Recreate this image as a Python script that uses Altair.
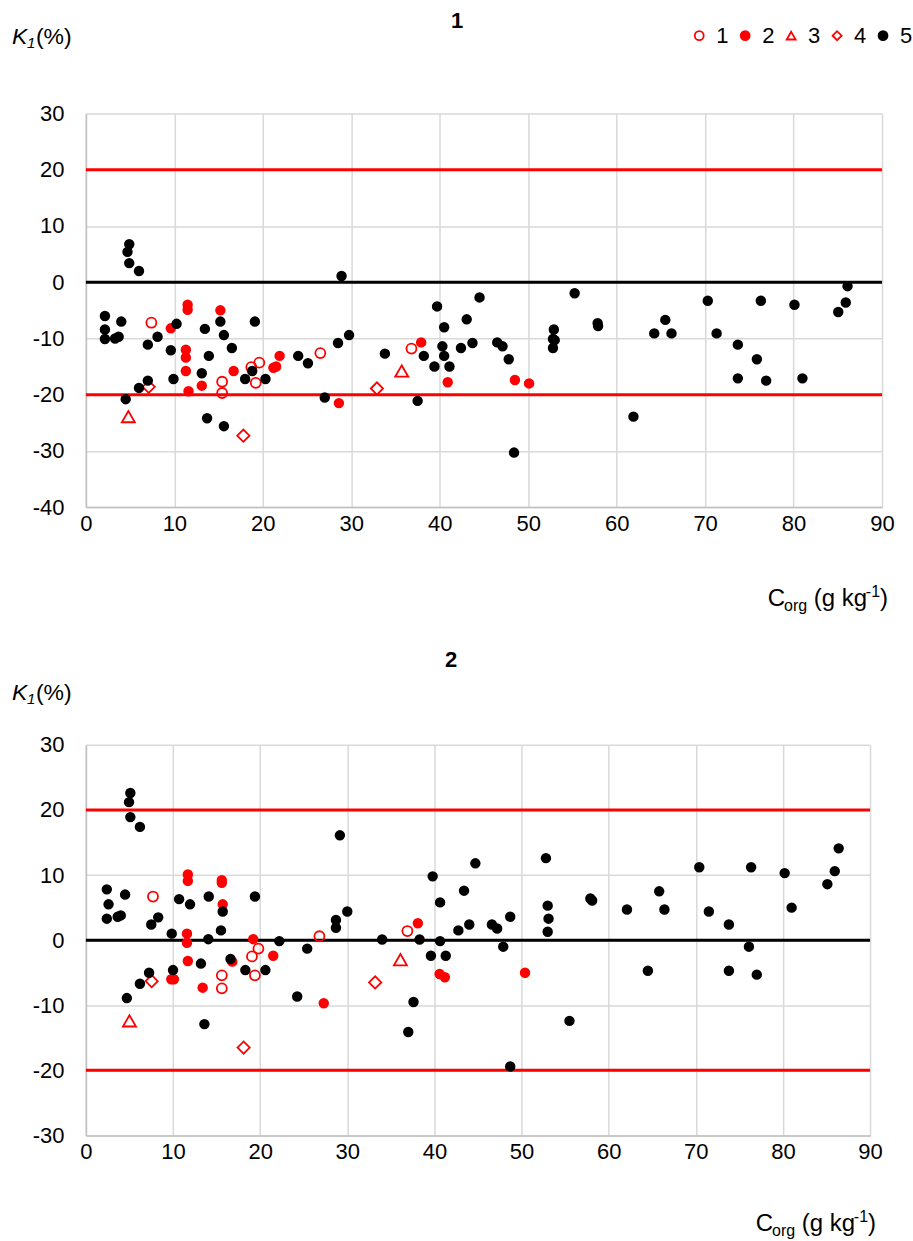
import altair as alt
import pandas as pd

FONT = "Liberation Sans"

# ---------------- data ----------------
SERIES = ["1", "2", "3", "4", "5"]

# Panel 1
p1_s1_x = [7.4, 15.4, 15.4, 18.7, 19.2, 19.6, 26.5, 36.8]
p1_s1_y = [-7.2, -17.7, -19.7, -15.1, -17.9, -14.3, -12.6, -11.8]

p1_s2_x = [11.5, 11.5, 15.2, 9.6, 11.3, 11.3, 11.3, 11.6, 13.1, 16.7, 21.2, 21.5, 21.9, 28.6, 37.9, 40.9, 48.5, 50.1]
p1_s2_y = [-4.0, -4.9, -5.0, -8.2, -12.0, -13.4, -15.8, -19.4, -18.4, -15.8, -15.2, -15.0, -13.1, -21.5, -10.7, -17.8, -17.4, -18.0]

p1_s3_x = [4.8, 35.7]
p1_s3_y = [-23.9, -15.8]

p1_s4_x = [7.1, 17.8, 32.9]
p1_s4_y = [-18.6, -27.3, -18.9]

p1_s5_x = [4.9, 4.7, 4.9, 6.0, 2.15, 2.15, 2.15, 3.3, 3.7, 4.0, 7.0, 8.1, 10.25, 9.6, 9.9, 7.0, 6.0, 4.5,
           13.45, 13.9, 13.1, 13.7, 15.2, 15.6, 16.5, 15.6, 19.1, 18.0, 18.8, 20.3, 24.0, 25.1, 28.9, 28.5,
           29.75, 27.0, 33.8, 37.5, 39.7, 40.5, 40.3, 38.2, 40.5, 39.4, 41.1, 42.4, 43.05, 43.7, 44.5, 46.5,
           47.1, 47.8, 48.4, 52.9, 52.8, 53.0, 52.8, 55.25, 57.85, 57.9, 61.9, 64.25, 65.5, 66.2, 70.3, 71.3,
           73.7, 73.7, 75.85, 76.3, 76.9, 80.1, 81.0, 85.05, 85.9, 86.1]
p1_s5_y = [6.75, 5.4, 3.4, 2.0, -6.0, -8.4, -10.1, -10.0, -9.7, -7.0, -11.1, -9.7, -7.4, -12.1, -17.2, -17.5, -18.8, -20.8,
           -8.3, -13.1, -16.2, -24.2, -7.0, -9.4, -11.7, -25.6, -7.0, -17.2, -15.8, -17.2, -13.1, -14.4, 1.1, -10.8,
           -9.4, -20.5, -12.7, -21.1, -4.3, -8.0, -11.4, -13.1, -13.1, -15.0, -15.0, -11.7, -6.6, -10.8, -2.7, -10.7,
           -11.4, -13.7, -30.3, -8.4, -10.1, -10.3, -11.7, -1.95, -7.3, -7.8, -23.9, -9.1, -6.7, -9.1, -3.3, -9.1,
           -11.1, -17.1, -13.7, -3.3, -17.5, -4.0, -17.1, -5.3, -3.6, -0.7]

# Panel 2
p2_s1_x = [7.7, 15.6, 15.6, 19.06, 19.4, 19.8, 26.8, 36.9]
p2_s1_y = [6.7, -5.4, -7.4, -2.5, -5.4, -1.3, 0.6, 1.4]

p2_s2_x = [11.7, 11.7, 15.6, 15.6, 15.7, 11.6, 11.6, 11.7, 9.8, 10.1, 13.4, 16.8, 19.2, 21.5, 27.3, 38.1, 40.6, 41.2, 50.4]
p2_s2_y = [10.1, 9.1, 9.2, 8.8, 5.5, 1.0, -0.4, -3.2, -6.0, -6.0, -7.3, -3.3, 0.15, -2.4, -9.7, 2.6, -5.2, -5.7, -5.0]

p2_s3_x = [5.0, 36.1]
p2_s3_y = [-12.4, -3.0]

p2_s4_x = [7.55, 18.1, 33.2]
p2_s4_y = [-6.3, -16.5, -6.5]

p2_s5_x = [5.1, 4.95, 5.1, 6.2, 2.4, 2.6, 2.4, 3.65, 4.0, 4.5, 7.5, 8.3, 10.7, 11.95, 9.85, 7.25, 6.2, 4.7,
           10.0, 14.1, 14.05, 13.2, 13.6, 15.7, 15.5, 16.6, 19.4, 18.3, 20.6, 22.2, 24.25, 25.4, 29.15, 28.7,
           28.7, 30.0, 34.0, 38.3, 37.6, 37.0, 39.8, 40.65, 40.65, 39.6, 41.3, 42.75, 43.4, 44.0, 44.7, 46.6,
           47.2, 47.9, 48.7, 48.7, 52.8, 53.0, 53.1, 53.0, 55.5, 57.9, 58.1, 62.1, 64.5, 65.8, 66.4, 70.4,
           71.5, 73.8, 73.8, 76.1, 76.35, 77.0, 80.2, 81.0, 85.1, 85.95, 86.4]
p2_s5_y = [22.6, 21.2, 18.9, 17.4, 7.8, 5.5, 3.3, 3.6, 3.8, 7.0, 2.4, 3.5, 6.3, 5.5, 1.0, -5.0, -6.7, -8.9,
           -4.6, 6.7, 0.15, -3.6, -12.9, 4.4, 1.5, -2.9, 6.7, -4.6, -4.6, -0.15, -8.65, -1.3, 16.1, 3.1,
           1.9, 4.4, 0.1, 0.1, -9.5, -14.1, 9.8, 5.8, -0.15, -2.4, -2.4, 1.5, 7.6, 2.4, 11.8, 2.4,
           1.8, -1.0, 3.6, -19.4, 12.6, 5.3, 3.3, 1.3, -12.4, 6.4, 6.1, 4.7, -4.7, 7.5, 4.7, 11.2,
           4.4, 2.4, -4.7, -1.0, 11.2, -5.3, 10.3, 5.0, 8.6, 10.6, 14.1]

limit_lines = [20, -20]
zero_line = [0]

# ---------------- styling ----------------
STROKES = ["#ff0000", "#ff0000", "#ff0000", "#ff0000", "#000000"]
FILLS = ["transparent", "#ff0000", "transparent", "transparent", "#000000"]
SHAPES = ["circle", "circle", "triangle-up", "diamond", "circle"]
SIZE_BY_SERIES = {"1": 100, "2": 75, "3": 170, "4": 150, "5": 75}


def series_df(xs_list, ys_list):
    frames = []
    for name, xs, ys in zip(SERIES, xs_list, ys_list):
        frames.append(pd.DataFrame({"x": xs, "y": ys, "s": name}))
    df = pd.concat(frames, ignore_index=True)
    df["sz"] = df["s"].map(SIZE_BY_SERIES)
    return df


one = pd.DataFrame({"k": [0]})


def label(text, x, y, size=22, weight="normal", style="normal", align="left", baseline="alphabetic"):
    return alt.Chart(one).mark_text(
        text=text, fontSize=size, font=FONT, fontWeight=weight, fontStyle=style,
        align=align, baseline=baseline, color="black"
    ).encode(x=alt.value(x), y=alt.value(y))


def frame_guide(x, y_top, y_bottom):
    # invisible vertical rule that fixes the panel's outer extent (layout only)
    return alt.Chart(one).mark_rule(strokeOpacity=0, strokeWidth=1).encode(
        x=alt.value(x), y=alt.value(y_top), y2=alt.value(y_bottom))


def panel(df, ymin, ymax, W, H, title, title_y, k_y, xt_y, show_legend, top_ext, bottom_ext):
    xs = alt.X("x:Q", scale=alt.Scale(domain=[0, 90], nice=False, zero=False),
               axis=alt.Axis(values=list(range(0, 91, 10)), title=None, grid=True,
                             gridColor="#d9d9d9", gridWidth=1.5, domainColor="#c0c0c0",
                             domainWidth=1.5, ticks=False, labelFont=FONT, labelFontSize=22,
                             labelColor="black", labelPadding=6, labelFlush=False,
                             labelOverlap=False, labelExpr="'' + datum.value"))
    ys = alt.Y("y:Q", scale=alt.Scale(domain=[ymin, ymax], nice=False, zero=False),
               axis=alt.Axis(values=list(range(ymin, ymax + 1, 10)), title=None, grid=True,
                             gridColor="#d9d9d9", gridWidth=1.5, domainColor="#c0c0c0",
                             domainWidth=1.5, ticks=False, labelFont=FONT, labelFontSize=22,
                             labelColor="black", labelPadding=22, labelFlush=False,
                             labelOverlap=False, labelExpr="'' + datum.value"))

    if show_legend:
        leg = alt.Legend(title=None, orient="none", legendX=603, legendY=-89,
                         direction="horizontal", columns=5, labelFont=FONT,
                         labelFontSize=22, labelColor="black", labelOffset=6,
                         columnPadding=5, symbolStrokeWidth=1.8, symbolSize=80,
                         padding=0)
    else:
        leg = None

    red_rules = alt.Chart(pd.DataFrame({"y": limit_lines})).mark_rule(
        color="#ff0000", strokeWidth=3).encode(y=ys)
    zero_rule = alt.Chart(pd.DataFrame({"y": zero_line})).mark_rule(
        color="#000000", strokeWidth=3).encode(y=ys)

    pts = alt.Chart(df).mark_point(strokeWidth=1.8, opacity=1).encode(
        x=xs, y=ys,
        stroke=alt.Stroke("s:N", scale=alt.Scale(domain=SERIES, range=STROKES), legend=leg),
        fill=alt.Fill("s:N", scale=alt.Scale(domain=SERIES, range=FILLS), legend=leg),
        shape=alt.Shape("s:N", scale=alt.Scale(domain=SERIES, range=SHAPES), legend=leg),
        size=alt.Size("sz:Q", scale=None, legend=None),
    )

    texts = [
        label(title, W / 2 - 27, title_y, size=22, weight="bold", align="center", baseline="middle"),
        label("K", -74, k_y, size=23, style="italic"),
        label("1", -59, k_y + 4, size=15, style="italic"),
        label("(%)", -50, k_y, size=23),
        label(")", W + 6, xt_y, size=24, align="right"),
        label("-1", W - 2, xt_y - 9, size=16, align="right"),
        label("(g kg", W - 15, xt_y, size=24, align="right"),
        label("org", W - 75, xt_y + 5, size=16, align="right"),
        label("C", W - 97, xt_y, size=24, align="right"),
    ]

    guide = frame_guide(-85.5, top_ext, bottom_ext)

    return alt.layer(guide, red_rules, zero_rule, pts, *texts).properties(width=W, height=H)


df1 = series_df([p1_s1_x, p1_s2_x, p1_s3_x, p1_s4_x, p1_s5_x],
                [p1_s1_y, p1_s2_y, p1_s3_y, p1_s4_y, p1_s5_y])
df2 = series_df([p2_s1_x, p2_s2_x, p2_s3_x, p2_s4_x, p2_s5_x],
                [p2_s1_y, p2_s2_y, p2_s3_y, p2_s4_y, p2_s5_y])

W1, H1 = 797, 394
W2, H2 = 785, 391

# panel 1: plot area top at 113 px, panel 2 plot area top at 745 px
c1 = panel(df1, -40, 30, W1, H1, "1", -93, -70, H1 + 99, True, -112.5, H1 + 110)
c2 = panel(df2, -30, 30, W2, H2, "2", -85, -45, H2 + 96, False, -112.5, H2 + 100)

chart = alt.vconcat(c1, c2, spacing=15).resolve_scale(
    x="independent", y="independent", stroke="independent", fill="independent",
    shape="independent"
).resolve_legend(
    stroke="independent", fill="independent", shape="independent"
).configure_view(stroke=None).properties(
    padding={"left": 0, "top": 0, "right": 0, "bottom": 0},
    background="white"
)

chart.save("out.html", embed_options={"renderer": "svg", "actions": False})
